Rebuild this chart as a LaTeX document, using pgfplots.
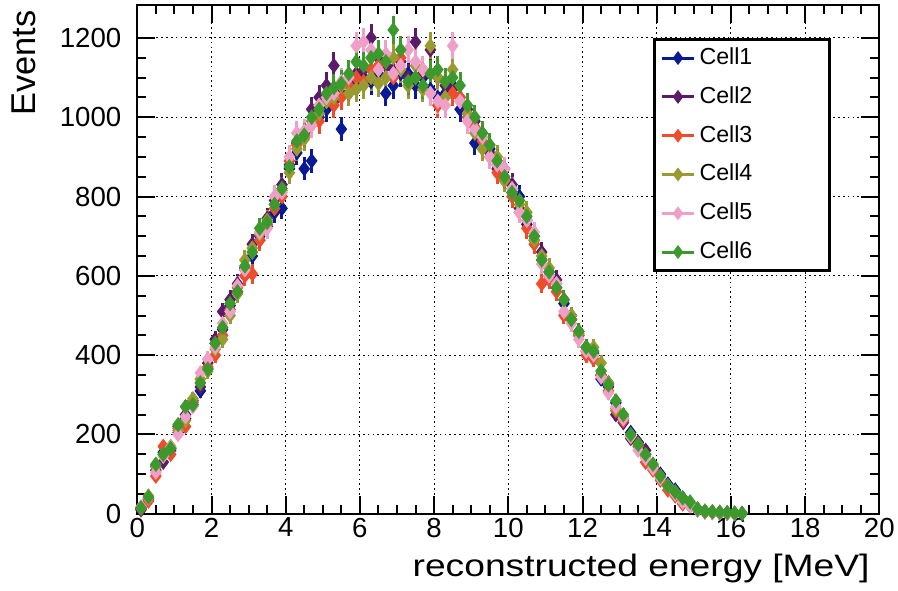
\documentclass[border=0pt]{standalone}
\usepackage{pgfplots}
\usepackage{pgfplotstable}
\pgfplotsset{compat=1.18}
\usepackage{fontspec}
\setmainfont{Liberation Sans}
\newfontfamily\xlabfont[FakeStretch=1.2]{Liberation Sans}

\definecolor{cA}{RGB}{10,26,148}
\definecolor{cB}{RGB}{92,26,108}
\definecolor{cC}{RGB}{238,76,42}
\definecolor{cD}{RGB}{154,154,48}
\definecolor{cE}{RGB}{240,160,200}
\definecolor{cF}{RGB}{60,154,44}

\pgfplotstableread{
x c1 c2 c3 c4 c5 c6
0.1 12 10 14 16 18 15
0.3 38 35 32 45 40 42
0.5 120 110 95 118 105 125
0.7 155 130 170 150 145 150
0.9 165 160 150 170 168 165
1.1 220 205 215 210 200 225
1.3 240 250 220 235 245 270
1.5 275 285 280 290 270 275
1.7 310 320 330 340 355 330
1.9 365 380 370 360 390 365
2.1 430 440 400 415 420 430
2.3 465 510 450 440 480 470
2.5 525 540 515 500 510 530
2.7 560 580 570 555 575 560
2.9 620 615 600 640 615 625
3.1 650 680 605 670 660 660
3.3 700 690 690 705 710 720
3.5 725 745 730 740 720 735
3.7 760 790 770 780 800 780
3.9 770 830 800 815 810 820
4.1 870 880 890 860 900 875
4.3 910 935 930 920 960 940
4.5 870 960 950 945 965 955
4.7 890 1020 980 990 980 1000
4.9 1000 1050 990 1010 1030 1020
5.1 1020 1080 1040 1040 1050 1060
5.3 1040 1130 1030 1050 1060 1075
5.5 970 1060 1050 1080 1090 1085
5.7 1060 1090 1080 1060 1100 1110
5.9 1080 1110 1100 1070 1180 1140
6.1 1100 1120 1090 1080 1190 1130
6.3 1090 1200 1120 1100 1170 1150
6.5 1110 1150 1130 1085 1120 1160
6.7 1060 1130 1140 1100 1160 1140
6.9 1080 1120 1100 1150 1110 1220
7.1 1110 1140 1150 1120 1130 1170
7.3 1110 1100 1080 1080 1170 1090
7.5 1080 1190 1100 1130 1140 1100
7.7 1100 1110 1120 1070 1120 1080
7.9 1070 1170 1110 1180 1060 1110
8.1 1050 1100 1030 1100 1040 1120
8.3 1060 1080 1090 1050 1030 1090
8.5 1080 1070 1060 1120 1180 1100
8.7 1020 1050 1050 1040 1040 1080
8.9 1010 1020 1000 1010 990 1030
9.1 935 990 975 960 970 1000
9.3 950 960 940 920 950 960
9.5 920 910 900 930 900 930
9.7 880 870 860 900 880 890
9.9 870 840 845 840 870 850
10.1 820 830 800 810 820 810
10.3 800 770 760 780 760 790
10.5 730 740 720 760 740 750
10.7 690 700 680 690 710 700
10.9 640 660 580 650 630 640
11.1 610 600 590 620 600 610
11.3 570 590 560 580 580 570
11.5 530 540 500 540 510 540
11.7 490 500 490 500 480 490
11.9 450 460 450 455 440 460
12.1 420 410 400 420 410 420
12.3 405 400 390 420 400 410
12.5 340 350 350 380 345 360
12.7 330 320 310 330 305 325
12.9 280 250 260 265 270 285
13.1 240 230 235 245 240 250
13.3 205 190 195 195 195 200
13.5 180 180 170 175 160 175
13.7 150 160 130 145 140 150
13.9 120 115 110 120 115 125
14.1 100 90 85 95 90 95
14.3 75 70 60 70 70 70
14.5 60 50 45 55 50 55
14.7 40 35 25 35 30 40
14.9 25 20 20 25 20 30
15.1 12 10 10 12 10 12
15.3 6 5 5 7 5 6
15.5 4 4 3 5 4 5
15.7 3 3 2 3 3 4
15.9 2 2 1 2 2 3
16.1 1 1 1 1 1 2
16.3 nan 1 nan nan nan 1
}\datatable

\pgfplotsset{
  cellplot/.style={only marks, mark=diamond*, mark size=3.4pt, color=#1,
    mark options={line width=0.6pt},
    error bars/.cd, y dir=both, y explicit, error mark=none,
    error bar style={line width=1.5pt, color=#1}},
}

\begin{document}
\begin{tikzpicture}
\path[use as bounding box] (-68.65pt,-38.1pt) rectangle (380.35pt,256.9pt);
\begin{axis}[
  at={(0pt,0pt)}, anchor=south west,
  scale only axis, width=371pt, height=254.4pt,
  xmin=0, xmax=20, ymin=0, ymax=1283,
  xtick={0,2,...,20}, ytick={0,200,...,1200},
  minor x tick num=3, minor y tick num=3,
  major tick length=9pt, minor tick length=4.5pt,
  tick align=inside, tick pos=both,
  axis line style={line width=1.1pt},
  every tick/.style={black, line width=1pt},
  grid=major,
  grid style={black, line width=0.5pt, dash pattern=on 0.8pt off 1.6pt},
  /pgf/number format/assume math mode=true,
  /pgf/number format/1000 sep={},
  tick label style={font=\fontsize{13.8}{16}\selectfont},
  yticklabel style={xshift=-4.5pt},
  xticklabel style={yshift=1.5pt},
  xlabel={\xlabfont\fontsize{15.5}{18}\selectfont reconstructed energy [MeV]},
  ylabel={\fontsize{17.2}{20}\selectfont Events},
  xlabel style={at={(axis description cs:0.9875,-0.1234)}, anchor=base east, inner sep=0pt},
  ylabel style={at={(axis description cs:-0.1527,0.990)}, anchor=east, inner sep=0pt, rotate=0},
  legend style={at={(axis description cs:0.695,0.935)}, anchor=north west,
    draw=black, line width=1.5pt, fill=white,
    inner xsep=3pt, inner ysep=2pt, row sep=4.9pt,
    font=\fontsize{11.6}{13}\selectfont,
    nodes={inner sep=2pt, text height=8.5pt, text depth=2pt}},
  legend cell align=left,
  legend image code/.code={
    \draw[#1, mark=none, line width=1.5pt] (0pt,0pt) -- (16pt,0pt);
    \draw[#1, mark size=3pt] plot coordinates {(8pt,0pt)};
  },
]
\addplot[cellplot=cA] table[x=x, y=c1, y error expr=sqrt(\thisrow{c1})] {\datatable};
\addlegendentry{\makebox[60pt][l]{Cell1}}
\addplot[cellplot=cB] table[x=x, y=c2, y error expr=sqrt(\thisrow{c2})] {\datatable};
\addlegendentry{\makebox[60pt][l]{Cell2}}
\addplot[cellplot=cC] table[x=x, y=c3, y error expr=sqrt(\thisrow{c3})] {\datatable};
\addlegendentry{\makebox[60pt][l]{Cell3}}
\addplot[cellplot=cD] table[x=x, y=c4, y error expr=sqrt(\thisrow{c4})] {\datatable};
\addlegendentry{\makebox[60pt][l]{Cell4}}
\addplot[cellplot=cE] table[x=x, y=c5, y error expr=sqrt(\thisrow{c5})] {\datatable};
\addlegendentry{\makebox[60pt][l]{Cell5}}
\addplot[cellplot=cF] table[x=x, y=c6, y error expr=sqrt(\thisrow{c6})] {\datatable};
\addlegendentry{\makebox[60pt][l]{Cell6}}
\end{axis}
\end{tikzpicture}
\end{document}
